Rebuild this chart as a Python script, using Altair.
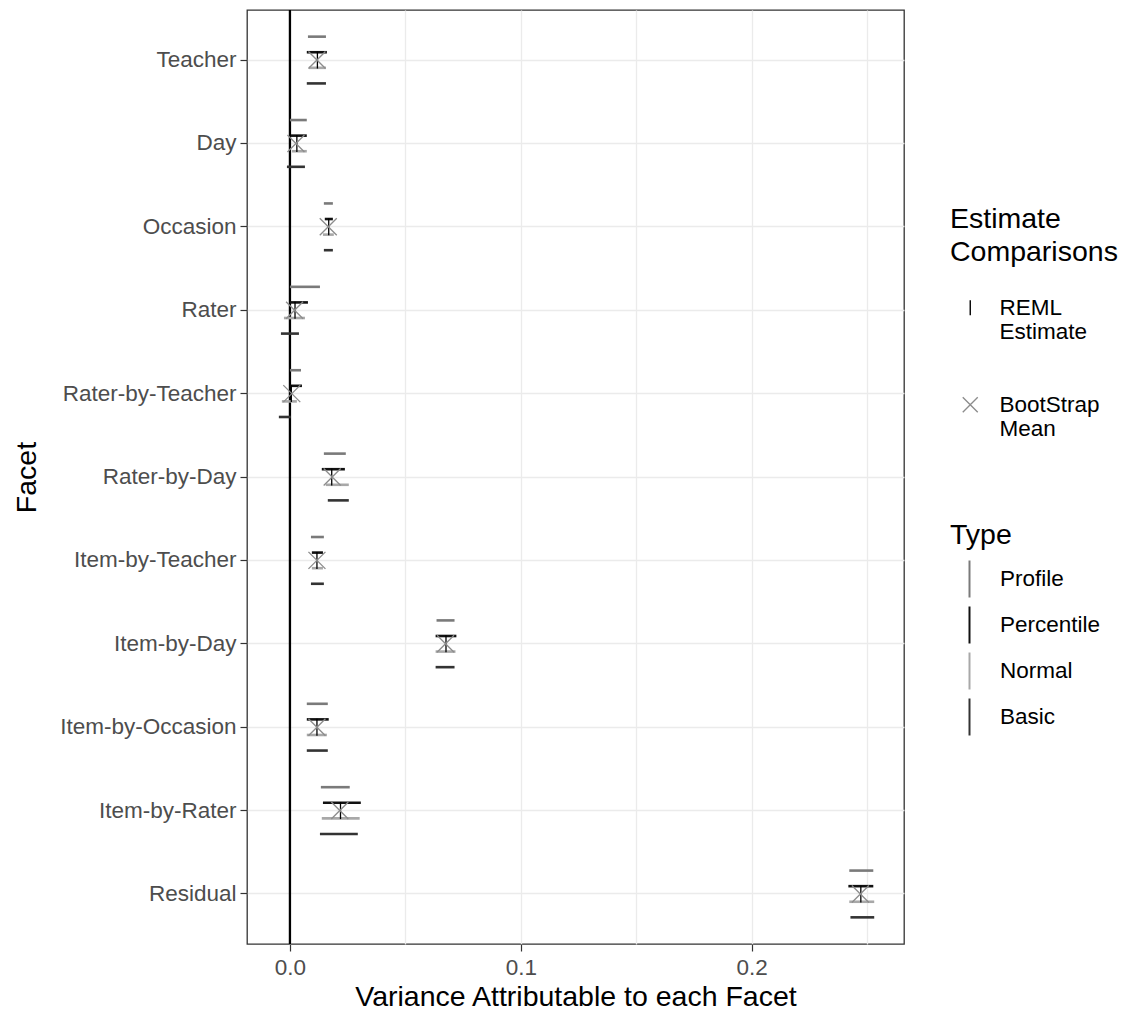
import altair as alt
import pandas as pd

facets = ['Teacher', 'Day', 'Occasion', 'Rater', 'Rater-by-Teacher', 'Rater-by-Day',
          'Item-by-Teacher', 'Item-by-Day', 'Item-by-Occasion', 'Item-by-Rater', 'Residual']
types = ['Profile', 'Percentile', 'Normal', 'Basic']
type_colors = ['#7a7a7a', '#111111', '#a8a8a8', '#333333']

profile_lo = [0.0078, 0.0000, 0.0147, 0.0000, 0.0000, 0.0147, 0.0091, 0.0635, 0.0073, 0.0134, 0.2423]
profile_hi = [0.0156, 0.0073, 0.0186, 0.0130, 0.0048, 0.0242, 0.0147, 0.0713, 0.0164, 0.0259, 0.2527]
percentile_lo = [0.0073, 0.0004, 0.0151, 0.0000, 0.0000, 0.0138, 0.0095, 0.0631, 0.0073, 0.0143, 0.2419]
percentile_hi = [0.0160, 0.0073, 0.0186, 0.0078, 0.0052, 0.0238, 0.0143, 0.0721, 0.0168, 0.0307, 0.2527]
normal_lo = [0.0082, 0.0009, 0.0143, -0.0026, -0.0035, 0.0155, 0.0095, 0.0631, 0.0073, 0.0138, 0.2423]
normal_hi = [0.0156, 0.0073, 0.0190, 0.0065, 0.0030, 0.0255, 0.0143, 0.0717, 0.0160, 0.0302, 0.2531]
basic_lo = [0.0073, -0.0013, 0.0147, -0.0039, -0.0048, 0.0164, 0.0091, 0.0631, 0.0073, 0.0130, 0.2428]
basic_hi = [0.0156, 0.0065, 0.0186, 0.0039, 0.0004, 0.0255, 0.0147, 0.0713, 0.0164, 0.0294, 0.2531]
reml = [0.0119, 0.0030, 0.0168, 0.0022, 0.0006, 0.0181, 0.0117, 0.0676, 0.0117, 0.0219, 0.2473]
boot_mean = [0.0117, 0.0026, 0.0166, 0.0020, 0.0008, 0.0183, 0.0117, 0.0674, 0.0117, 0.0216, 0.2471]

estimates = ['REML Estimate', 'BootStrap Mean']
estimate_colors = ['#000000', '#8c8c8c']
estimate_shapes = ['M0,-1L0,1', 'M-1,-1L1,1M1,-1L-1,1']

ci_rows = []
for t, lo, hi in zip(types, [profile_lo, percentile_lo, normal_lo, basic_lo],
                     [profile_hi, percentile_hi, normal_hi, basic_hi]):
    for f, a, b in zip(facets, lo, hi):
        ci_rows.append({'Facet': f, 'Type': t, 'lo': a, 'hi': b})
ci_df = pd.DataFrame(ci_rows)

pt_rows = []
for e, vals in zip(estimates, [reml, boot_mean]):
    for f, v in zip(facets, vals):
        pt_rows.append({'Facet': f, 'Estimate': e, 'value': v})
pt_df = pd.DataFrame(pt_rows)

FONT = 'Liberation Sans'
LABEL_SIZE = 22.5
TITLE_SIZE = 28.5
xscale = alt.Scale(domain=[-0.0186, 0.266], nice=False, zero=False)
yscale = alt.Scale(domain=facets, paddingInner=0, paddingOuter=0.1)

x_axis = alt.Axis(
    values=[0, 0.05, 0.1, 0.15, 0.2, 0.25],
    labelExpr="round(datum.value*100) % 10 == 0 ? format(datum.value, '.1f') : ''",
    tickOpacity={"condition": {"test": "round(datum.value*100) % 10 == 0", "value": 1}, "value": 0},
    title='Variance Attributable to each Facet',
    grid=True, gridColor='#ebebeb', gridWidth=1.3,
    domain=False, tickColor='#333333', tickSize=7, tickWidth=1.2,
    labelColor='#4d4d4d', labelFontSize=LABEL_SIZE, labelFont=FONT, labelPadding=5,
    titleFont=FONT, titleFontSize=TITLE_SIZE, titleFontWeight='normal', titleColor='#000000', titlePadding=4,
)
y_axis = alt.Axis(
    title='Facet', bandPosition=0.5,
    grid=True, gridColor='#ebebeb', gridWidth=1.3,
    domain=False, tickColor='#333333', tickSize=7, tickWidth=1.2, tickBand='center',
    labelColor='#4d4d4d', labelFontSize=LABEL_SIZE, labelFont=FONT, labelPadding=4,
    titleFont=FONT, titleFontSize=TITLE_SIZE, titleFontWeight='normal', titleColor='#000000', titlePadding=18,
)

vline = alt.Chart(pd.DataFrame({'z': [0]})).mark_rule(color='#000000', strokeWidth=2.3).encode(
    x=alt.X('z:Q', scale=xscale, axis=x_axis)
)

type_legend = alt.Legend(
    title='Type', orient='none', legendX=703, legendY=511,
    symbolType='M0,-1L0,1', symbolSize=1369, symbolStrokeWidth=2, symbolOffset=0,
    titleFont=FONT, titleFontSize=TITLE_SIZE, titleFontWeight='normal', titleColor='#000000', titlePadding=10,
    labelFont=FONT, labelFontSize=LABEL_SIZE, labelColor='#000000', labelOffset=11, rowPadding=1,
)

segs = alt.Chart(ci_df).mark_rule(strokeWidth=2.6).encode(
    x=alt.X('lo:Q', scale=xscale, axis=x_axis),
    x2='hi:Q',
    y=alt.Y('Facet:N', scale=yscale, axis=y_axis, sort=facets),
    yOffset=alt.YOffset('Type:N', sort=types,
                        scale=alt.Scale(domain=types, paddingInner=0, paddingOuter=0.675)),
    color=alt.Color('Type:N', scale=alt.Scale(domain=types, range=type_colors), legend=type_legend),
)

est_legend = alt.Legend(
    title=['Estimate', 'Comparisons'], orient='none', legendX=703, legendY=195,
    symbolType={"expr": "datum.value === '%s' ? '%s' : '%s'" % (estimates[0], estimate_shapes[0], estimate_shapes[1])},
    symbolSize=225, symbolStrokeWidth=1.4, symbolOffset=9,
    titleFont=FONT, titleFontSize=TITLE_SIZE, titleFontWeight='normal', titleColor='#000000',
    titleLineHeight=33, titlePadding=30,
    labelFont=FONT, labelFontSize=LABEL_SIZE, labelColor='#000000', labelOffset=18, rowPadding=49,
    labelExpr="datum.label == 'REML Estimate' ? ['REML', 'Estimate'] : ['BootStrap', 'Mean']",
)

pts = alt.Chart(pt_df).mark_point(filled=False, size=289, strokeWidth=1.3, opacity=1).encode(
    x=alt.X('value:Q', scale=xscale, axis=x_axis),
    y=alt.Y('Facet:N', scale=yscale, axis=y_axis, sort=facets),
    color=alt.Color('Estimate:N', scale=alt.Scale(domain=estimates, range=estimate_colors),
                    legend=est_legend),
    shape=alt.Shape('Estimate:N', scale=alt.Scale(domain=estimates, range=estimate_shapes),
                    legend=None),
)

chart = alt.layer(vline, segs, pts).resolve_scale(color='independent').properties(
    width=657, height=934, background='white',
    padding={'left': 4, 'top': 0, 'right': 5, 'bottom': 0},
).configure_view(stroke='#333333', strokeWidth=1.3)

chart.save("out.html", embed_options={"renderer": "svg", "actions": False})
